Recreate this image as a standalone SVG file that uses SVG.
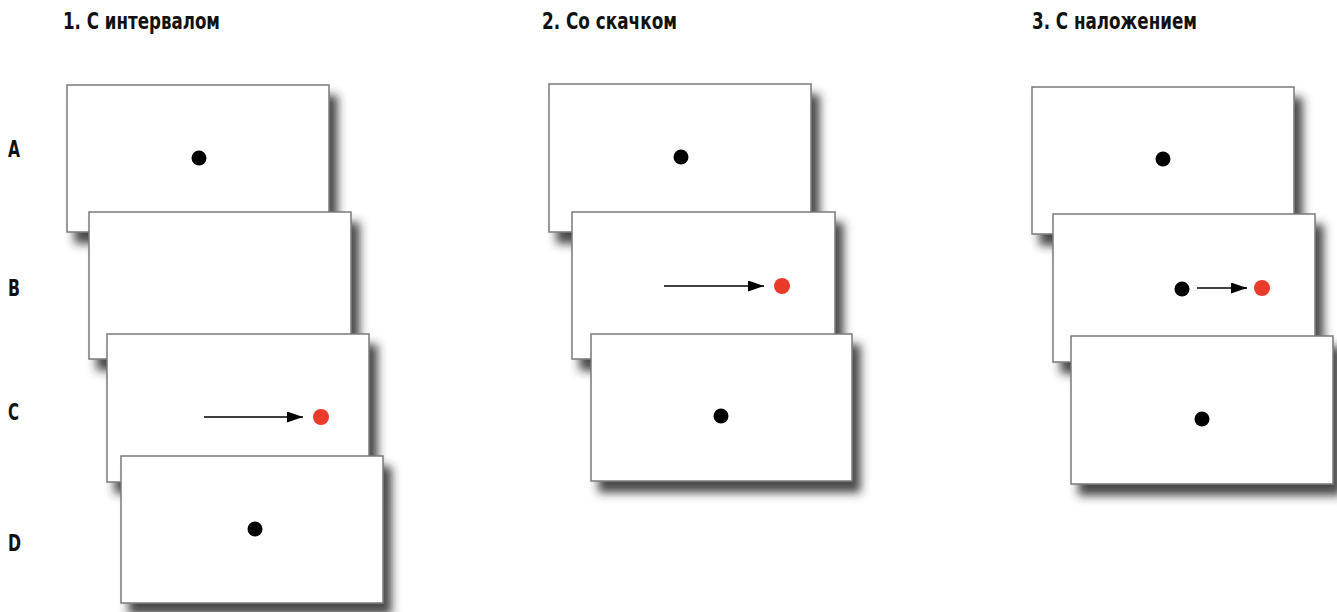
<svg xmlns="http://www.w3.org/2000/svg" width="1337" height="612" viewBox="0 0 1337 612">
<style>
.title{font-family:"DejaVu Sans","Liberation Sans",sans-serif;font-stretch:condensed;font-weight:bold;font-size:23px;fill:#111}
.lbl{font-family:"DejaVu Sans","Liberation Sans",sans-serif;font-stretch:condensed;font-weight:bold;font-size:23px;fill:#111}
.card{fill:#fff;stroke:#7a7a7a;stroke-width:1.5;filter:url(#sh)}
.dot{fill:#000}
.red{fill:#ea3a2a}
.arr{stroke:#000;stroke-width:1.3;fill:none;marker-end:url(#ah)}
</style>
<defs>
<filter id="sh" x="-10%" y="-10%" width="130%" height="150%">
<feDropShadow dx="8" dy="11" stdDeviation="5" flood-color="#2a2a2a" flood-opacity="0.85"/>
</filter>
<marker id="ah" markerUnits="userSpaceOnUse" markerWidth="16" markerHeight="11" refX="16" refY="5.5" orient="auto">
<path d="M0,0 L16,5.5 L0,11 z" fill="#000"/>
</marker>
</defs>
<rect width="1337" height="612" fill="#fff"/>
<g id="titles">
<text class="title" x="63" y="29" textLength="157" lengthAdjust="spacingAndGlyphs">1. С интервалом</text>
<text class="title" x="542" y="29" textLength="135" lengthAdjust="spacingAndGlyphs">2. Со скачком</text>
<text class="title" x="1032" y="29" textLength="165" lengthAdjust="spacingAndGlyphs">3. С наложением</text>
</g>
<g id="row-labels">
<text class="lbl" x="8" y="157" textLength="12" lengthAdjust="spacingAndGlyphs">A</text>
<text class="lbl" x="8" y="296" textLength="12" lengthAdjust="spacingAndGlyphs">B</text>
<text class="lbl" x="8" y="420" textLength="11" lengthAdjust="spacingAndGlyphs">C</text>
<text class="lbl" x="8" y="551" textLength="13" lengthAdjust="spacingAndGlyphs">D</text>
</g>
<g id="col1">
<g id="c1A"><rect class="card" x="67" y="85" width="262" height="147"/><circle class="dot" cx="199" cy="158" r="7.5"/></g>
<g id="c1B"><rect class="card" x="89" y="212" width="262" height="147"/></g>
<g id="c1C"><rect class="card" x="107" y="334" width="262" height="148"/><circle class="red" cx="321" cy="417" r="8"/></g>
<g id="c1D"><rect class="card" x="121" y="456" width="262" height="147"/><circle class="dot" cx="255" cy="529" r="7.5"/></g>
</g>
<g id="col2">
<g id="c2A"><rect class="card" x="549" y="84" width="262" height="148"/><circle class="dot" cx="681" cy="157" r="7.5"/></g>
<g id="c2B"><rect class="card" x="572" y="212" width="263" height="147"/><circle class="red" cx="782" cy="286" r="8"/></g>
<g id="c2C"><rect class="card" x="591" y="334" width="261" height="147"/><circle class="dot" cx="721" cy="416" r="7.5"/></g>
</g>
<g id="col3">
<g id="c3A"><rect class="card" x="1032" y="87" width="262" height="147"/><circle class="dot" cx="1163" cy="159" r="7.5"/></g>
<g id="c3B"><rect class="card" x="1053" y="214" width="262" height="148"/><circle class="dot" cx="1182" cy="289" r="7.5"/><circle class="red" cx="1262" cy="288" r="8"/></g>
<g id="c3C"><rect class="card" x="1071" y="336" width="262" height="148"/><circle class="dot" cx="1202" cy="419" r="7.5"/></g>
</g>
<g id="connectors">
<line class="arr" x1="204" y1="417" x2="303" y2="417"/>
<line class="arr" x1="664" y1="286" x2="764" y2="286"/>
<line class="arr" x1="1197" y1="288" x2="1247" y2="288"/>
</g>
</svg>
